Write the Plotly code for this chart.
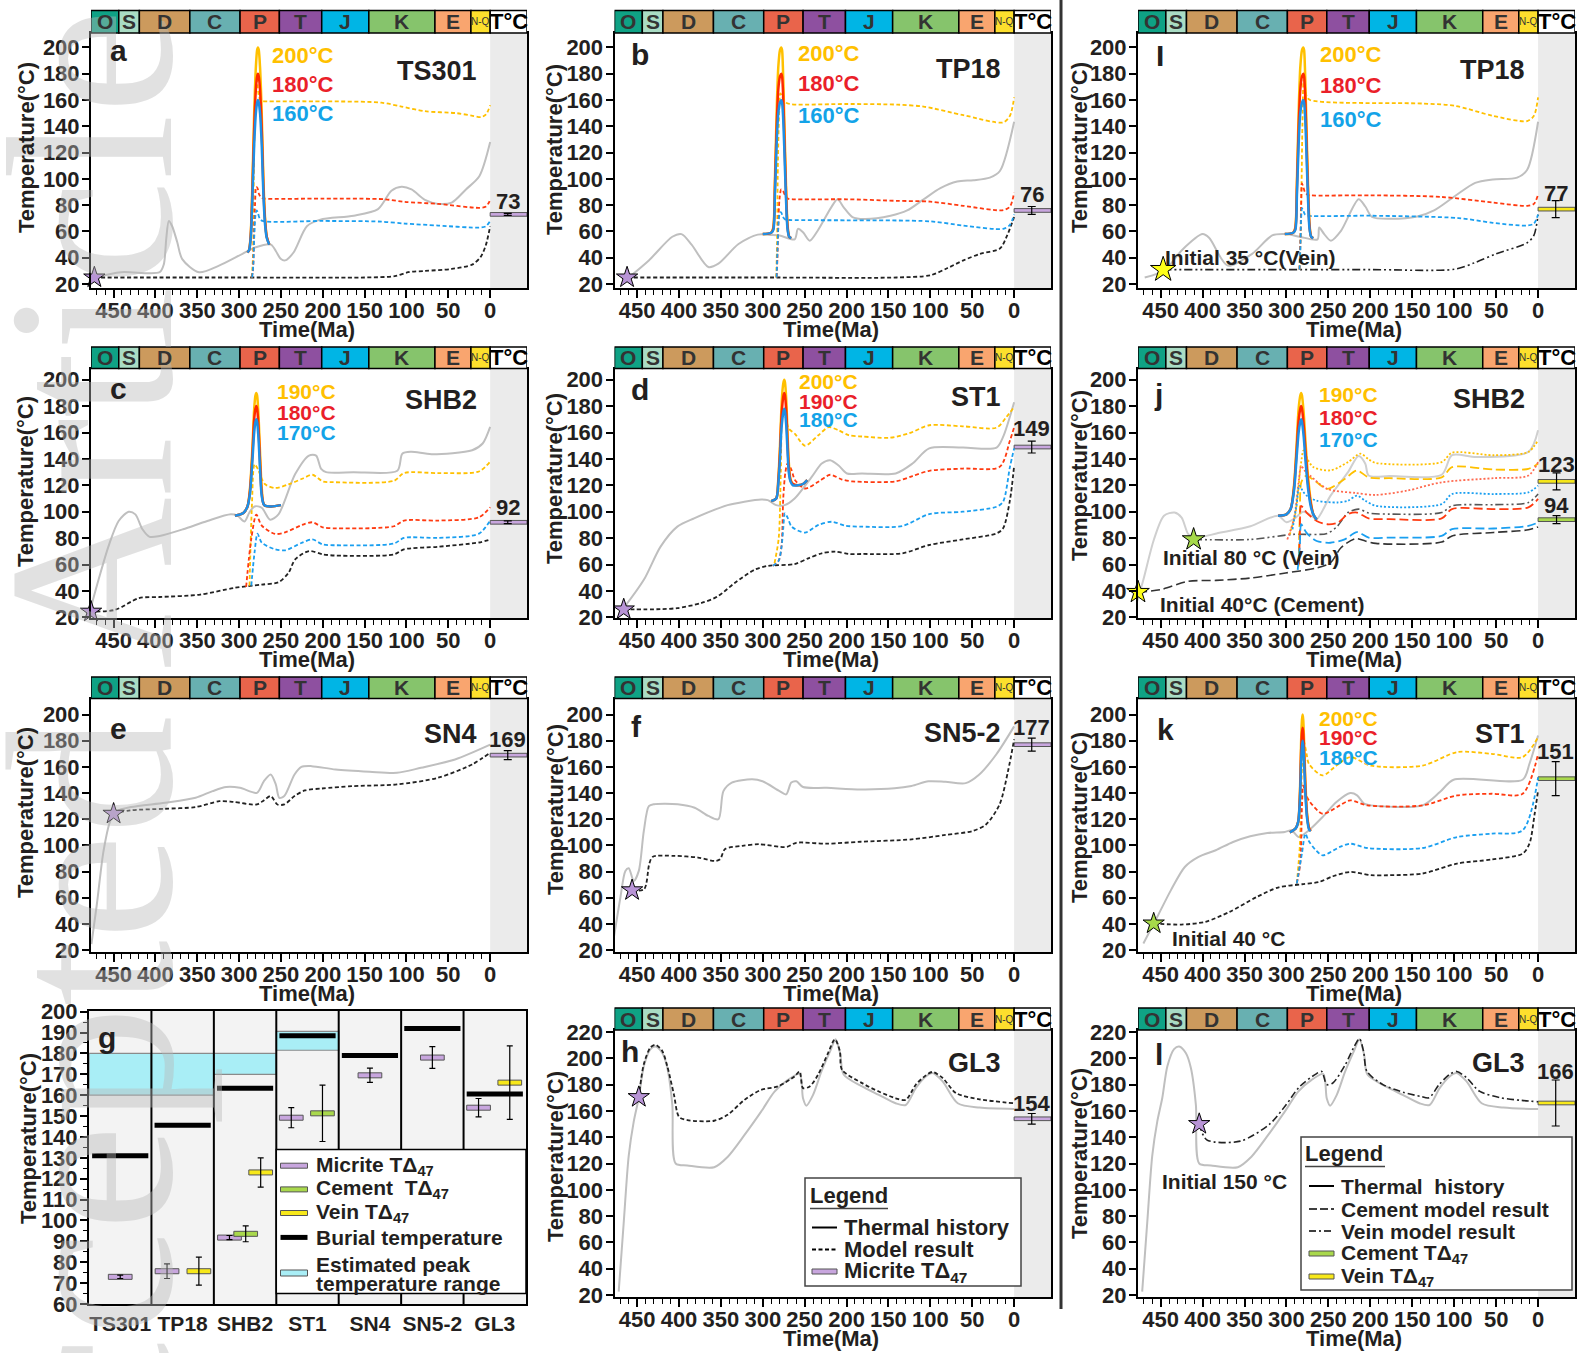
import plotly.graph_objects as go

W, H = 1585, 1353
FONT = "Liberation Sans"
TXT = "#231f20"

# ---------------- geologic time bar ----------------
period_names = ["O", "S", "D", "C", "P", "T", "J", "K", "E", "N-Q", "T°C"]
period_bounds = [485.4, 443.8, 419.2, 358.9, 298.9, 251.9, 201.3, 145.0, 66.0, 23.0, 0.0, -44.0]
period_colors = ["#0fa285", "#a9dcc4", "#cc9a5d", "#68b0b1", "#e9644b", "#8e50a0",
                 "#00b5e5", "#86c46c", "#f9a56f", "#fddf2d", "#ffffff"]
x_major = [450, 400, 350, 300, 250, 200, 150, 100, 50, 0]
x_minor = [470, 460, 440, 430, 420, 410, 390, 380, 370, 360, 340, 330, 320, 310, 290, 280,
           270, 260, 240, 230, 220, 210, 190, 180, 170, 160, 140, 130, 120, 110, 90, 80, 70,
           60, 40, 30, 20, 10]
X_RANGE = [477, -44]

# ---------------- panel a : TS301 ----------------
a_thermal_t = [473, 441, 395, 390, 387, 384, 380, 374, 368, 348, 324, 296, 280, 262, 256, 250, 245, 235, 219, 203, 163, 134, 118, 106, 94, 78, 62, 46, 29, 13, 0]
a_thermal_T = [25, 29, 29, 35, 55, 68, 64, 52, 39, 29, 34, 43, 48, 50, 45, 39, 38, 44, 64, 69, 72, 77, 91, 94, 92, 84, 81, 82, 92, 102, 128]
a_model_t = [473, 300, 150, 114, 98, 78, 46, 21, 11, 5, 0]
a_model_T = [25, 25, 25, 26, 29, 30, 31.5, 35, 41, 50, 64]
a_yel_t = [285, 283.5, 282.5, 281, 279.5, 278, 276, 273, 270, 200, 130, 106, 78, 40, 21, 11, 5, 0]
a_yel_T = [25, 40, 100, 160, 180, 172, 162, 159, 159, 159, 158, 155, 151.5, 150, 148, 147, 149, 156]
a_red_t = [285, 283.5, 282.5, 281, 279.5, 278, 276, 273, 270, 200, 126, 102, 62, 13, 5, 0]
a_red_T = [25, 30, 50, 80, 94, 93, 88, 85.5, 85, 85, 84.5, 82.5, 81, 78, 79, 84]
a_blu_t = [284.5, 283, 282, 280.5, 279, 277.5, 275.5, 272, 200, 130, 102, 62, 13, 5, 0]
a_blu_T = [25, 35, 55, 72, 76, 74, 70, 68, 68, 67.5, 66, 64.5, 63, 64, 68]
a_peak_t = [290, 288, 286, 284, 282, 280, 278.5, 277.5, 276.5, 275, 273, 271, 269, 267, 264]
a_peak_200 = [44, 46, 60, 100, 150, 185, 198, 200, 198, 185, 150, 100, 70, 56, 50]
a_peak_180 = [44, 46, 58, 94, 138, 168, 178, 180, 178, 168, 138, 94, 68, 56, 50]
a_peak_160 = [44, 46, 56, 88, 126, 150, 158, 160, 158, 150, 126, 88, 65, 55, 50]
a_micrite, a_micrite_err = 73, 0.8

# ---------------- panel b : TP18 ----------------
b_thermal_t = [462, 436, 408, 397, 385, 365, 353, 329, 306, 290, 280, 262, 258, 252, 244, 234.5, 218.7, 210.8, 203, 193, 179, 147.5, 127.7, 108, 88, 68, 48.6, 29, 17, 0]
b_thermal_T = [24, 38, 56, 58, 50, 33, 35.5, 50.5, 57.6, 57.4, 57, 54, 62, 59.4, 53, 60.6, 78, 84.5, 78, 71, 69.5, 72, 76, 84.5, 93, 98, 99, 101, 106, 143.5]
b_model_t = [462, 300, 140, 100, 80, 60.5, 40.7, 17, 9, 0]
b_model_T = [25, 25, 25, 26.7, 32, 38, 43, 47, 56, 71]
b_yel_t = [284, 283, 282, 280.5, 279, 277, 275, 272, 268, 258, 200, 139.6, 108, 60.5, 13, 5, 0]
b_yel_T = [25, 50, 110, 150, 165, 163, 160, 158, 157, 156.5, 157, 156.5, 155, 148.5, 143, 148, 162]
b_red_t = [283.5, 282.5, 281.5, 280, 278, 276, 273, 270, 264, 200, 139.6, 100, 60.5, 13, 5, 0]
b_red_T = [25, 40, 65, 85, 92, 91, 87, 85, 84.5, 84.5, 83.3, 82.7, 79.5, 76.2, 79, 89.5]
b_blu_t = [283.5, 282.5, 281, 279.5, 278, 276, 273, 266, 200, 100, 60.5, 13, 5, 0]
b_blu_T = [25, 45, 68, 74.5, 74.5, 71, 69, 68.7, 68.5, 67.7, 64.5, 62, 65, 73]
b_peak_t = [300, 290, 287.5, 285.5, 283.5, 281.5, 279.5, 278, 277, 276, 274.5, 272.5, 270.5, 268.5, 266]
b_peak_200 = [58, 59, 63, 100, 150, 185, 198, 200, 198, 185, 150, 100, 66, 56, 55]
b_peak_180 = [58, 59, 62, 94, 138, 168, 178, 180, 178, 168, 138, 94, 64, 56, 55]
b_peak_160 = [58, 59, 61, 88, 126, 150, 158, 160, 158, 150, 126, 88, 62, 56, 55]
b_micrite, b_micrite_err = 76, 3

# ---------------- panel i : TP18 (vein) ----------------
i_thermal_t = [469, 445, 425, 400, 392, 370, 341, 317, 300, 284, 263, 261, 255, 247, 235, 214, 206, 198, 177, 144, 124, 99, 75, 54, 25, 13, 0]
i_thermal_T = [25, 30.5, 45.6, 58, 55, 34, 43, 57, 58, 56, 54, 63, 58, 53, 60.5, 84.6, 79, 71, 69.6, 71.4, 76, 87, 97, 99.6, 101, 107, 143.5]
i_vein_t = [447, 300, 200, 99, 75, 50, 13, 5, 0]
i_vein_T = [31, 31, 31, 31.3, 36.4, 43, 51.4, 57, 72.8]
i_yel_t = [284.5, 283, 282, 281, 279.5, 278, 276, 272, 136, 99, 54, 13, 5, 0]
i_yel_T = [31, 60, 96, 140, 175, 170, 163, 160, 157.3, 155.6, 148, 144, 148, 162]
i_red_t = [284.5, 283.5, 282.5, 281.5, 280, 278, 275, 272, 200, 115.7, 54, 13, 5, 0]
i_red_T = [31, 50, 80, 96.6, 94, 90, 88, 87.5, 87.5, 86.3, 82, 79.5, 81, 88]
i_blu_t = [284.5, 283.5, 282.5, 281.5, 280, 278, 274, 200, 95, 54, 13, 5, 0]
i_blu_T = [31, 45, 70, 77.7, 76, 73, 72, 72, 70.2, 66.6, 64.5, 66, 72.8]
i_peak_t = [302, 292, 289.5, 287.5, 285.5, 283.5, 281.5, 280, 279, 278, 276.5, 274.5, 272.5, 270.5, 268]
i_peak_200 = [58, 59, 63, 100, 150, 185, 198, 200, 198, 185, 150, 100, 66, 56, 55]
i_peak_180 = [58, 59, 62, 94, 138, 168, 178, 180, 178, 168, 138, 94, 64, 56, 55]
i_peak_160 = [58, 59, 61, 88, 126, 150, 158, 160, 158, 150, 126, 88, 62, 56, 55]
i_vein, i_vein_err = 77, 6.5

# ---------------- panel c : SHB2 ----------------
c_thermal_t = [478.5, 468, 456, 444, 432, 424, 415.5, 407, 395, 367, 338, 310, 302, 293.6, 287.6, 281.5, 273, 263, 253, 233, 216.5, 208, 202, 196, 163.7, 111, 105, 94.6, 70, 21.5, 9, 0]
c_thermal_T = [24.3, 48.5, 74, 93, 100, 98, 86.7, 81, 81.6, 86.7, 93, 98, 97, 92.6, 99.6, 104, 103, 94, 98, 128.5, 142.5, 142.5, 132.4, 130, 130, 131, 144, 145.4, 143.6, 146.6, 151.7, 164.3]
c_model_t = [478.5, 448, 419.6, 395, 346.5, 306, 273, 253, 241, 233, 216.5, 200, 184, 115, 103, 62, 13.4, 0]
c_model_T = [24.3, 25.7, 34.6, 35.4, 37.2, 42.3, 44.8, 46.6, 53.7, 63.9, 70.2, 67.7, 66.8, 67.7, 71.5, 73.5, 76.7, 79]
c_yel_t = [287.6, 284.7, 281.5, 277.4, 269.3, 257, 241, 224.6, 212.4, 200, 188, 115, 103, 62, 13.4, 0]
c_yel_T = [44, 105, 136, 132, 121, 118, 120.7, 125, 128, 123, 122.4, 123.4, 129.3, 129.3, 130.5, 138]
c_red_t = [291.6, 285.5, 279.4, 273, 257, 245, 224.6, 212.4, 200, 184, 115, 103, 62, 13.4, 0]
c_red_T = [43, 79.4, 97.8, 89.5, 83.2, 84.4, 90, 92, 88.2, 87.4, 89, 93.3, 93.3, 95.8, 103.4]
c_blu_t = [285.5, 281.5, 278, 273, 257, 245, 224.6, 212.4, 200, 184, 115, 103, 62, 13.4, 0]
c_blu_T = [44, 69.5, 83.4, 76.6, 71.5, 70.8, 76.6, 79, 75.2, 74.6, 75.9, 80.2, 80.2, 83.4, 93.5]
c_peak_t = [305, 295, 290, 287, 284, 282, 280.5, 279.5, 278.5, 277, 275, 273, 270, 262, 250]
c_peak_190 = [97, 99, 104, 118, 150, 178, 188, 190, 188, 175, 145, 118, 105, 104, 105]
c_peak_180 = [97, 99, 104, 116, 145, 170, 178, 180, 178, 166, 138, 114, 105, 104, 105]
c_peak_170 = [97, 99, 104, 114, 140, 160, 168, 170, 168, 157, 132, 112, 105, 104, 105]
c_micrite, c_micrite_err = 92, 1

# ---------------- panel d : ST1 ----------------
d_thermal_t = [466, 442, 422, 402, 382, 342, 322, 302, 294, 284, 274, 262, 241.6, 229.6, 219.6, 209.5, 199.5, 181.5, 141.4, 121.4, 101.4, 61.3, 21, 13.2, 0]
d_thermal_T = [27, 48.4, 73.6, 88.7, 95, 105, 107.6, 109.3, 108.8, 105, 105, 110, 126.4, 136.5, 139, 135, 129, 129, 129, 136.5, 148, 148.6, 148.6, 156.7, 183]
d_model_t = [466, 422, 402, 374, 354, 334, 310, 294, 262, 245.6, 229.6, 213.5, 197.5, 181.5, 133.4, 101.4, 61.3, 21, 13.2, 5, 0]
d_model_T = [26, 26.2, 27, 30.7, 35.8, 45.8, 56, 59, 60.4, 64.7, 68.5, 69.8, 68, 68, 68.5, 74.8, 79, 83.6, 87.4, 108.8, 135]
d_yel_t = [286, 281, 278.5, 276, 273, 269, 261.6, 249.6, 233.6, 221.6, 209.5, 197.5, 181.5, 149.4, 125.4, 101.4, 61.3, 21, 9.2, 0]
d_yel_T = [61, 80, 130, 175, 172, 163, 159, 150, 158, 164, 161.7, 158, 157, 156, 159.4, 165.5, 164.7, 163.7, 171.8, 179.3]
d_red_t = [288, 281, 277.5, 275.6, 273, 270.4, 266, 261.6, 249.6, 233.6, 219.6, 205.5, 193.5, 141.4, 121.4, 101.4, 61.3, 17.2, 5, 0]
d_red_T = [59, 63, 75, 110, 130, 136.5, 132, 124, 117.6, 122.7, 128, 124.4, 123, 123, 127, 131, 132.7, 134, 154, 164]
d_blu_t = [288, 281, 277.6, 275.5, 273.6, 270, 265.6, 249.6, 233.6, 217.6, 201.5, 181.5, 133.4, 101.4, 61.3, 21, 13.2, 5, 0]
d_blu_T = [59, 63, 73.6, 88, 98.8, 95, 88.7, 84.2, 90, 92.4, 89.4, 88.7, 89.2, 98.2, 100, 103.8, 107.6, 134, 148]
d_peak_t = [290, 284, 281.5, 279.5, 278, 276.5, 275.3, 274.4, 273.5, 272, 270.5, 269, 267, 264, 258, 252, 247]
d_peak_200 = [108, 110, 125, 150, 175, 192, 198, 200, 198, 185, 160, 138, 125, 121, 120, 121, 124]
d_peak_190 = [108, 110, 123, 145, 168, 182, 188, 190, 188, 176, 153, 134, 124, 121, 120, 121, 124]
d_peak_178 = [108, 110, 121, 140, 160, 171, 176, 178, 176, 165, 146, 130, 123, 120, 120, 121, 124]
d_micrite, d_micrite_err = 149, 4.5

# ---------------- panel j : SHB2 (cement + vein) ----------------
j_thermal_t = [481, 470.6, 458, 446, 433.4, 425, 417, 409, 380, 343, 310, 300, 290, 280, 270, 264, 247.6, 226.6, 214, 206, 202, 177, 115, 102.6, 73.6, 11.6, 0]
j_thermal_T = [25.6, 48.5, 79, 97, 99.4, 95.6, 83, 80.4, 84, 89, 97, 92, 95, 100, 97, 94.4, 112, 130, 142.2, 136.4, 127.4, 127, 128, 142.8, 141.5, 145.3, 161.8]
j_cem_t = [477, 450, 417, 384, 343, 301, 264, 247.6, 235, 218, 206, 193.5, 115, 102.6, 53, 11.6, 0]
j_cem_T = [39.1, 41, 47.3, 48, 49.8, 53.6, 57.4, 61.3, 72.7, 79.6, 77.8, 76, 77, 81.7, 84.3, 86.3, 88.5]
j_vein_t = [410.7, 343, 293, 251.4, 239, 226.6, 214, 202, 177, 115, 102.6, 53, 11.6, 0]
j_vein_T = [79, 79, 82.8, 83.6, 89.3, 99.4, 102, 99, 98.2, 99.4, 104.5, 105.3, 107, 113.4]
j_yel_vein_t = [296, 289, 283, 279.6, 275, 268, 247.6, 226.6, 212, 202, 193.5, 115, 102.6, 53, 11.6, 0]
j_yel_vein_T = [83, 100, 135, 146.5, 140, 133.8, 131.3, 137.6, 144, 139.7, 137, 137.6, 144.7, 142.8, 145.3, 154.2]
j_yel_cem_t = [285.5, 284, 282.5, 279, 276, 264, 251.4, 230.6, 216, 202, 177, 115, 102.6, 53, 11.6, 0]
j_yel_cem_T = [58.6, 100, 122, 126, 127.4, 122.3, 117.3, 124.8, 131.3, 126, 125.4, 126, 133.8, 132, 132.5, 136.4]
j_red_vein_t = [299, 291, 285, 282.5, 278, 272, 251.4, 218, 193.5, 156, 115, 53, 11.6, 0]
j_red_vein_T = [79, 95, 125, 134.6, 131, 127.5, 117.3, 114.2, 112.7, 116, 122.3, 125.4, 127.4, 137.6]
j_red_cem_t = [285, 284, 282.5, 279, 276, 264, 251.4, 239, 226.6, 216, 202, 177, 115, 102.6, 53, 11.6, 0]
j_red_cem_T = [60, 84, 104.4, 102, 99.4, 93, 90.5, 91.7, 98.2, 99.4, 94.9, 94.4, 94.9, 102, 102, 103.3, 109.7]
j_blu_vein_t = [292.8, 288, 284.5, 280, 276, 264, 239, 226.6, 216, 206, 193.5, 115, 102.6, 53, 11.6, 0]
j_blu_vein_T = [86.7, 105, 119.8, 115, 112.2, 108.4, 107, 108.4, 112.2, 108.4, 104.5, 105.8, 113.4, 113.4, 114.7, 119.8]
j_blu_cem_t = [286.6, 284, 282.5, 279, 276, 264, 247.6, 230.6, 216, 202, 177, 115, 102.6, 53, 11.6, 0]
j_blu_cem_T = [56, 75, 90.5, 87, 84, 77.8, 76.5, 79, 84.6, 80.4, 80.4, 81.7, 86.8, 87.3, 89.3, 91.8]
j_peak_t = [310, 300, 295, 291, 288, 285.5, 283.5, 282.5, 281.5, 279.5, 277, 274, 271, 268, 264]
j_peak_190 = [97, 98, 102, 120, 150, 178, 188, 190, 188, 175, 150, 125, 108, 98, 94]
j_peak_180 = [97, 98, 102, 118, 145, 169, 178, 180, 178, 166, 143, 120, 106, 98, 94]
j_peak_170 = [97, 98, 102, 116, 140, 160, 168, 170, 168, 157, 136, 116, 104, 98, 94]
j_vein, j_vein_err = 123, 6.5
j_cement, j_cement_err = 94, 3

# ---------------- panel e : SN4 ----------------
e_thermal_t = [476.5, 470, 462, 454, 445.6, 429.3, 388.5, 352, 331.7, 315.4, 299, 278.7, 270.5, 262.3, 256.2, 252, 246, 233.8, 225.6, 213.4, 184.8, 144, 111.4, 82.8, 42, 0]
e_thermal_T = [24.5, 55, 95.8, 118.6, 126.3, 129.3, 132.6, 136.4, 141.5, 144.6, 144, 140.2, 149, 154.2, 146.6, 136.4, 137.7, 154.2, 160, 160.6, 158, 156.3, 155.5, 159.3, 165.7, 177]
e_model_t = [450, 429.6, 388.8, 352, 323.5, 307, 278.7, 270.5, 262.3, 254.2, 246, 233.8, 221.5, 201, 164.4, 111.4, 62.4, 21.6, 0]
e_model_T = [124.2, 126.8, 128, 129.3, 133.8, 133.3, 131.3, 134.4, 137.7, 131.3, 131.3, 137.7, 142, 143.5, 145.3, 146.6, 151.7, 161.9, 170.8]
e_micrite, e_micrite_err = 169, 3.5

# ---------------- panel f : SN5-2 ----------------
f_thermal_t = [478.4, 470, 464, 460, 454, 448, 442, 436, 429.8, 401.5, 381.3, 365, 353, 347, 337, 312.6, 300.4, 280, 272.1, 266, 260, 252, 223.6, 183, 142.7, 122.5, 102.3, 82, 57.8, 41.6, 21.4, 0]
f_thermal_T = [27, 60, 80.5, 82.5, 72.7, 80.5, 111, 130, 131.5, 131.5, 128.8, 122.5, 120, 141.5, 148, 150.5, 149, 141.5, 139, 148, 149, 144.6, 144, 142.8, 143.6, 145.4, 149, 148.6, 147.6, 154.2, 169.5, 191]
f_model_t = [456, 441.7, 435.6, 431.6, 405.6, 377.3, 357, 351, 345, 324.5, 304.5, 272, 260, 223.6, 183, 122.5, 82, 49.7, 33.6, 17.4, 7.3, 0]
f_model_T = [65.7, 66.5, 85.6, 91.2, 92, 90.7, 88.1, 89.4, 97.2, 99.7, 100.9, 98.8, 102, 101.3, 102.8, 104.6, 108, 111, 116, 131.3, 156.8, 181]
f_micrite, f_micrite_err = 177, 5

# ---------------- panel k : ST1 (cement) ----------------
k_thermal_t = [470.6, 454, 437.7, 421.2, 404.8, 384.3, 363.7, 343.2, 322.7, 302, 293.9, 285.7, 273.3, 256.9, 240.4, 224, 215.8, 207.6, 199.3, 137.7, 117.1, 100.7, 18.5, 10.3, 0]
k_thermal_T = [25, 45.4, 65.8, 83.5, 91.2, 96.3, 102.6, 107, 109.5, 110.3, 111.5, 106.5, 111.5, 121.7, 133.1, 140, 138.3, 131.9, 130.6, 130.6, 140.8, 150.2, 150.2, 162.4, 184]
k_model_t = [458.3, 425.4, 396.6, 367.8, 335, 310, 281.5, 261, 244.6, 224, 199.3, 178.8, 137.7, 96.6, 55.5, 18.5, 10.3, 4.1, 0]
k_model_T = [40.3, 39.5, 41.6, 49.2, 60.7, 67.8, 70.3, 72.1, 76.4, 79.7, 77.2, 77.2, 78.5, 86.1, 89.2, 93.7, 101.3, 124.2, 142]
k_yel_t = [287.7, 284, 281.5, 279.5, 276, 273.3, 257, 240.4, 224, 199.3, 137.7, 96.6, 55.5, 18.5, 0]
k_yel_T = [70.8, 100, 160, 180, 170, 162.4, 153.5, 161, 167.5, 161, 161, 171.3, 170, 167.5, 182.7]
k_red_t = [287.7, 283.6, 281.5, 280, 277.5, 273.3, 256.9, 236.4, 224, 203.5, 137.7, 96.6, 55.5, 18.5, 0]
k_red_T = [70.8, 86, 130, 145.8, 140, 134.4, 124.2, 130.6, 134.4, 130.6, 130.6, 138.2, 139.5, 139.5, 170]
k_blu_t = [287.7, 281.6, 277.4, 274, 265, 256.9, 236.4, 224, 203.5, 137.7, 96.6, 55.5, 18.5, 0]
k_blu_T = [70.8, 93.7, 109, 104, 96.3, 92.4, 98.8, 101.3, 98, 98, 106.4, 109, 111.5, 152]
k_peak_t = [296, 289, 286, 284, 282.5, 281.5, 280.7, 280, 279, 277.5, 275.5, 273, 271]
k_peak_200 = [110, 113, 118, 140, 180, 196, 200, 196, 180, 150, 125, 113, 111]
k_peak_190 = [110, 113, 118, 137, 172, 186, 190, 186, 172, 145, 123, 113, 111]
k_peak_180 = [110, 113, 118, 134, 164, 176, 180, 176, 164, 140, 121, 112, 111]
k_cement, k_cement_err = 151, 13

# ---------------- panels h / l : GL3 ----------------
gl3_thermal_t = [472, 466, 460, 454, 448, 442, 434, 428, 420, 414, 408, 404, 390, 358, 342, 322, 302, 286, 270, 256, 252, 248, 240, 230, 219.6, 213, 207.5, 203.5, 181.5, 161.5, 141.4, 129.4, 117.4, 105.4, 97.4, 85.3, 67.3, 41.3, 0]
gl3_thermal_T = [22.6, 75, 126, 152, 170, 194, 207, 209, 204, 192.8, 164.6, 120, 118.5, 117.2, 125, 141.5, 159.4, 174.7, 183.6, 188, 169.6, 164, 172.2, 190, 205.4, 214.4, 203, 187.7, 178.6, 172.2, 165.8, 164.5, 177.3, 186.2, 188.8, 182.4, 165.8, 162.5, 161.5]
h_model_t = [448, 442, 434, 428, 420, 414, 406, 400, 390, 358, 342, 322, 302, 282, 262, 256, 252, 244, 234, 222, 214, 208, 205.5, 181.5, 161.5, 141.4, 129.4, 117.4, 105.4, 97.4, 85.3, 69.3, 41.3, 0]
h_model_T = [170.5, 195.5, 208.3, 210.3, 205.6, 194, 172.2, 155.5, 153, 152.5, 157, 168.3, 176, 178.6, 186.2, 190, 177.3, 178.6, 187.5, 204.1, 214.4, 205.4, 191.3, 181.1, 174.7, 169.6, 168.4, 179.9, 187, 189.6, 185, 173.5, 168.8, 165.8]
h_micrite, h_micrite_err = 154, 4
l_vein_t = [404, 395, 355, 320, 300, 285, 265, 258, 252, 245, 230, 220, 213, 208, 204, 185, 160, 140, 130, 118, 105, 97, 85, 70, 45, 20, 0]
l_vein_T = [150, 138, 137, 150, 165, 178, 188, 190, 180, 181, 195, 208, 215, 205, 190, 180, 174, 171, 170, 180, 188, 190, 185, 175, 170, 168, 167]
l_vein, l_vein_err = 166, 17.5

# ---------------- panel g : summary ----------------
g_samples = ["TS301", "TP18", "SHB2", "ST1", "SN4", "SN5-2", "GL3"]
g_burial = [131, 145.6, 163.3, 188.4, 179, 191.9, 160.6]
g_peak_lo = [160, 160, 170, 181.5, None, None, None]
g_peak_hi = [180, 180, 180, 190.5, None, None, None]
g_micrite = [73, 75.7, 91.8, 149.2, 169.5, 178, 154]
g_micrite_err = [0.8, 3.5, 1, 4.8, 3.4, 5.2, 4.4]
g_cement = [None, None, 93.6, 151.3, None, None, None]
g_cement_err = [None, None, 3.8, 13.5, None, None, None]
g_vein = [None, 75.7, 123, None, None, None, 166]
g_vein_err = [None, 6.7, 7, None, None, None, 17.6]
# horizontal slot of each symbol inside its column (styling)
g_micrite_slot = [0.5, 0.25, 0.25, 0.24, 0.5, 0.5, 0.24]
g_cement_slot = [0, 0, 0.51, 0.74, 0, 0, 0]
g_vein_slot = [0, 0.76, 0.75, 0, 0, 0, 0.74]

# ---------------- colours ----------------
YEL, RED, BLU = "#ffc000", "#ff3a10", "#1a9ff0"
YEL_T, RED_T, BLU_T = "#ffc000", "#ea1f2a", "#13a3e8"
GREY = "#bfbfbf"
BLK = "#222222"
MICRITE_C, CEMENT_C, VEIN_C = "#c8a6de", "#a9d84c", "#f7e81a"
STAR_PURPLE, STAR_YEL, STAR_GREEN = "#b894d6", "#ffff1a", "#a6d94a"

fig = go.Figure()
shapes, annos = [], []

# page watermark (light grey, rotated, partly off page)
annos.append(dict(x=90 / W, y=1 - 6 / H, xref="paper", yref="paper", text="Accepted Article",
                  textangle=-90, showarrow=False, opacity=0.42,
                  font=dict(family="Liberation Serif", size=238, color="#b9b9b9"),
                  xanchor="center", yanchor="top"))


def fx(px):
    return px / W


def fy(py):
    return 1 - py / H


def ids(n):
    s = "" if n == 1 else str(n)
    return "x" + s, "y" + s, "xaxis" + s, "yaxis" + s


axis_font = dict(family=FONT, size=22, color=TXT, weight="bold")


def make_panel(n, xpx, row, yrange, yticks, letter, sample, temps=None):
    x0, x1 = xpx
    bar_top, top, bot = row
    xr, yr, xs, ys = ids(n)
    fig.layout[xs] = dict(domain=[fx(x0), fx(x1)], range=X_RANGE, anchor=yr, tickvals=x_major,
                          ticks="outside", ticklen=8, tickwidth=1.5, tickcolor="black", ticklabelstandoff=-6,
                          showline=True, linewidth=2, linecolor="black", mirror=True, automargin=False,
                          showgrid=False, zeroline=False, tickfont=axis_font,
                          minor=dict(tickvals=x_minor, ticks="outside", ticklen=5, tickwidth=1, tickcolor="black"))
    fig.layout[ys] = dict(domain=[fy(bot), fy(top)], range=yrange, anchor=xr, tickvals=yticks,
                          ticks="outside", ticklen=7, tickwidth=1.5, tickcolor="black", ticklabelstandoff=-2,
                          showline=True, linewidth=2, linecolor="black", mirror=True, automargin=False,
                          showgrid=False, zeroline=False, tickfont=axis_font)
    shapes.append(dict(type="rect", xref=xr, yref=yr + " domain", x0=0, x1=X_RANGE[1], y0=0, y1=1,
                       fillcolor="#ebebeb", line=dict(width=0), layer="below"))
    for k, name in enumerate(period_names):
        a0 = min(period_bounds[k], X_RANGE[0])
        a1 = period_bounds[k + 1]
        shapes.append(dict(type="rect", xref=xr, yref="paper", x0=a0, x1=a1, y0=fy(top), y1=fy(bar_top),
                           fillcolor=period_colors[k], line=dict(color="black", width=1.5)))
        if name == "N-Q":
            txt, size, col = "N-Q", 10, "#333333"
        elif name == "T°C":
            txt, size, col = "<b>T°C</b>", 22, "black"
        else:
            txt, size, col = "<b>%s</b>" % name, 21, "#333333"
        annos.append(dict(x=(a0 + a1) / 2, y=fy((top + bar_top) / 2), xref=xr, yref="paper",
                          text=txt, showarrow=False, font=dict(family=FONT, size=size, color=col),
                          xanchor="center", yanchor="middle"))
    annos.append(dict(x=letter[1], y=letter[2], xref=xr + " domain", yref=yr + " domain",
                      text="<b>%s</b>" % letter[0], showarrow=False,
                      font=dict(family=FONT, size=30, color=TXT), xanchor="center", yanchor="middle"))
    if sample:
        annos.append(dict(x=0.89, y=sample[1], xref=xr + " domain", yref=yr + " domain",
                          text="<b>%s</b>" % sample[0], showarrow=False,
                          font=dict(family=FONT, size=27, color=TXT), xanchor="right", yanchor="middle"))
    if temps:
        for (txt, yy, col) in temps[1]:
            annos.append(dict(x=temps[0], y=yy, xref=xr + " domain", yref=yr + " domain",
                              text="<b>%s</b>" % txt, showarrow=False,
                              font=dict(family=FONT, size=temps[2], color=col), xanchor="left", yanchor="middle"))
    annos.append(dict(x=0.495, y=fy(bot + 41), xref=xr + " domain", yref="paper", text="<b>Time(Ma)</b>",
                      showarrow=False, font=dict(family=FONT, size=22, color=TXT), xanchor="center", yanchor="middle"))
    return xr, yr


def ytitle(xpx, ypx):
    annos.append(dict(x=fx(xpx), y=fy(ypx), xref="paper", yref="paper", text="<b>Temperature(°C)</b>",
                      textangle=-90, showarrow=False, font=dict(family=FONT, size=22, color=TXT),
                      xanchor="center", yanchor="middle"))


def line(xr, yr, t, T, color, width=2.0, dash="solid", smooth=0.8):
    fig.add_trace(go.Scatter(x=t, y=T, mode="lines", xaxis=xr, yaxis=yr, showlegend=False, hoverinfo="skip",
                             line=dict(color=color, width=width, dash=dash, shape="spline", smoothing=smooth)))


def star(xr, yr, t, T, color, size=16):
    fig.add_trace(go.Scatter(x=[t], y=[T], mode="markers", xaxis=xr, yaxis=yr, showlegend=False,
                             hoverinfo="skip", cliponaxis=False,
                             marker=dict(symbol="star", size=size, color=color, line=dict(color="black", width=1))))


def td47(xr, yr, val, err, color, label, label_dy, xe=-21):
    fig.add_trace(go.Bar(x=[X_RANGE[1]], y=[val], base=[0], orientation="h", width=2.8, xaxis=xr, yaxis=yr,
                         showlegend=False, hoverinfo="skip",
                         marker=dict(color=color, line=dict(color="#555555", width=1))))
    fig.add_trace(go.Scatter(x=[xe], y=[val], mode="markers", xaxis=xr, yaxis=yr, showlegend=False,
                             hoverinfo="skip", marker=dict(size=1, color="rgba(0,0,0,0)"),
                             error_y=dict(type="data", array=[err], color="black", thickness=1.2, width=4)))
    if label:
        annos.append(dict(x=xe, y=val + label_dy, xref=xr, yref=yr, text="<b>%d</b>" % val, showarrow=False,
                          font=dict(family=FONT, size=22, color=TXT), xanchor="center", yanchor="middle"))


def peaks(xr, yr, t, hi, mid, lo):
    line(xr, yr, t, hi, YEL, 2.5)
    line(xr, yr, t, mid, "#ff2a00", 2.5)
    line(xr, yr, t, lo, "#1e8fe6", 2.5)


DASH = "4px,2.5px"
C1, C2, C3 = (91, 527), (614.5, 1051), (1138, 1575)
R1, R2, R3, R4 = (10.5, 33, 288), (347, 368.5, 618), (677, 698.5, 952), (1008, 1030, 1297)
Y1, Y2, Y3, Y4 = [17, 211], [19.5, 208.5], [18.5, 212.3], [18.5, 221.5]
YT = [20, 40, 60, 80, 100, 120, 140, 160, 180, 200]
YT4 = [20, 40, 60, 80, 100, 120, 140, 160, 180, 200, 220]

# ---- a ----
xr, yr = make_panel(1, C1, R1, Y1, YT, ("a", 0.063, 0.93), ("TS301", 0.85),
                    (0.41, [("200°C", 0.91, YEL_T), ("180°C", 0.798, RED_T), ("160°C", 0.685, BLU_T)], 22))
line(xr, yr, a_thermal_t, a_thermal_T, GREY)
line(xr, yr, a_model_t, a_model_T, BLK, 1.8, DASH)
line(xr, yr, a_yel_t, a_yel_T, YEL, 1.8, DASH)
line(xr, yr, a_red_t, a_red_T, RED, 1.8, DASH)
line(xr, yr, a_blu_t, a_blu_T, BLU, 1.8, DASH)
peaks(xr, yr, a_peak_t, a_peak_200, a_peak_180, a_peak_160)
star(xr, yr, a_model_t[0], a_model_T[0], STAR_PURPLE)
td47(xr, yr, a_micrite, a_micrite_err, MICRITE_C, True, 10)

# ---- b ----
xr, yr = make_panel(2, C2, R1, Y1, YT, ("b", 0.059, 0.914), ("TP18", 0.86),
                    (0.415, [("200°C", 0.92, YEL_T), ("180°C", 0.803, RED_T), ("160°C", 0.678, BLU_T)], 22))
line(xr, yr, b_thermal_t, b_thermal_T, GREY)
line(xr, yr, b_model_t, b_model_T, BLK, 1.8, DASH)
line(xr, yr, b_yel_t, b_yel_T, YEL, 1.8, DASH)
line(xr, yr, b_red_t, b_red_T, RED, 1.8, DASH)
line(xr, yr, b_blu_t, b_blu_T, BLU, 1.8, DASH)
peaks(xr, yr, b_peak_t, b_peak_200, b_peak_180, b_peak_160)
star(xr, yr, b_model_t[0], b_model_T[0], STAR_PURPLE)
td47(xr, yr, b_micrite, b_micrite_err, MICRITE_C, True, 12)

# ---- i ----
xr, yr = make_panel(3, C3, R1, Y1, YT, ("I", 0.05, 0.91), ("TP18", 0.855),
                    (0.413, [("200°C", 0.915, YEL_T), ("180°C", 0.795, RED_T), ("160°C", 0.661, BLU_T)], 22))
line(xr, yr, i_thermal_t, i_thermal_T, GREY)
line(xr, yr, i_vein_t, i_vein_T, BLK, 1.6, "8px,3px,2px,3px,2px,3px")
line(xr, yr, i_yel_t, i_yel_T, YEL, 1.8, DASH)
line(xr, yr, i_red_t, i_red_T, RED, 1.8, DASH)
line(xr, yr, i_blu_t, i_blu_T, BLU, 1.8, DASH)
peaks(xr, yr, i_peak_t, i_peak_200, i_peak_180, i_peak_160)
star(xr, yr, i_vein_t[0], i_vein_T[0], STAR_YEL, 19)
td47(xr, yr, i_vein, i_vein_err, VEIN_C, True, 12)
annos.append(dict(x=447, y=40, xref=xr, yref=yr, text="<b>Initial 35 °C(Vein)</b>", showarrow=False,
                  font=dict(family=FONT, size=21, color=TXT), xanchor="left", yanchor="middle"))

# ---- c ----
xr, yr = make_panel(4, C1, R2, Y2, YT, ("c", 0.063, 0.92), ("SHB2", 0.872),
                    (0.421, [("190°C", 0.906, YEL_T), ("180°C", 0.824, RED_T), ("170°C", 0.743, BLU_T)], 21))
line(xr, yr, c_thermal_t, c_thermal_T, GREY)
line(xr, yr, c_model_t, c_model_T, BLK, 1.8, DASH)
line(xr, yr, c_yel_t, c_yel_T, YEL, 1.8, DASH)
line(xr, yr, c_red_t, c_red_T, RED, 1.8, DASH)
line(xr, yr, c_blu_t, c_blu_T, BLU, 1.8, DASH)
peaks(xr, yr, c_peak_t, c_peak_190, c_peak_180, c_peak_170)
star(xr, yr, 477, c_model_T[0], STAR_PURPLE)
td47(xr, yr, c_micrite, c_micrite_err, MICRITE_C, True, 11)

# ---- d ----
xr, yr = make_panel(5, C2, R2, Y2, YT, ("d", 0.059, 0.916), ("ST1", 0.884),
                    (0.418, [("200°C", 0.949, YEL_T), ("190°C", 0.869, RED_T), ("180°C", 0.795, BLU_T)], 21))
line(xr, yr, d_thermal_t, d_thermal_T, GREY)
line(xr, yr, d_model_t, d_model_T, BLK, 1.8, DASH)
line(xr, yr, d_yel_t, d_yel_T, YEL, 1.8, DASH)
line(xr, yr, d_red_t, d_red_T, RED, 1.8, DASH)
line(xr, yr, d_blu_t, d_blu_T, BLU, 1.8, DASH)
peaks(xr, yr, d_peak_t, d_peak_200, d_peak_190, d_peak_178)
star(xr, yr, d_model_t[0], d_model_T[0], STAR_PURPLE)
td47(xr, yr, d_micrite, d_micrite_err, MICRITE_C, True, 14)

# ---- j ----
xr, yr = make_panel(6, C3, R2, Y2, YT, ("j", 0.047, 0.897), ("SHB2", 0.877),
                    (0.41, [("190°C", 0.897, YEL_T), ("180°C", 0.804, RED_T), ("170°C", 0.716, BLU_T)], 21))
line(xr, yr, j_thermal_t, j_thermal_T, "#cfcfcf")
LONG, DOT, DDOT = "9px,4px", "2px,2px", "8px,3px,2px,3px,2px,3px"
line(xr, yr, j_cem_t, j_cem_T, "#333333", 1.6, LONG)
line(xr, yr, j_vein_t, j_vein_T, "#555555", 1.6, DDOT)
line(xr, yr, j_yel_vein_t, j_yel_vein_T, YEL, 1.8, DOT)
line(xr, yr, j_yel_cem_t, j_yel_cem_T, YEL, 1.8, LONG)
line(xr, yr, j_red_vein_t, j_red_vein_T, "#ff6a50", 1.8, DOT)
line(xr, yr, j_red_cem_t, j_red_cem_T, RED, 1.8, LONG)
line(xr, yr, j_blu_vein_t, j_blu_vein_T, BLU, 1.8, DOT)
line(xr, yr, j_blu_cem_t, j_blu_cem_T, BLU, 1.8, LONG)
peaks(xr, yr, j_peak_t, j_peak_190, j_peak_180, j_peak_170)
star(xr, yr, j_cem_t[0], j_cem_T[0], STAR_YEL, 17)
star(xr, yr, j_vein_t[0], j_vein_T[0], STAR_GREEN, 17)
td47(xr, yr, j_vein, j_vein_err, VEIN_C, True, 13, -22)
td47(xr, yr, j_cement, j_cement_err, CEMENT_C, True, 10.5, -22)
annos.append(dict(x=449, y=65, xref=xr, yref=yr, text="<b>Initial 80 °C (Vein)</b>", showarrow=False,
                  font=dict(family=FONT, size=21, color=TXT), xanchor="left", yanchor="middle"))
annos.append(dict(x=453, y=30, xref=xr, yref=yr, text="<b>Initial 40°C (Cement)</b>", showarrow=False,
                  font=dict(family=FONT, size=21, color=TXT), xanchor="left", yanchor="middle"))

# ---- e ----
xr, yr = make_panel(7, C1, R3, Y3, YT, ("e", 0.063, 0.88), ("SN4", 0.86))
line(xr, yr, e_thermal_t, e_thermal_T, GREY)
line(xr, yr, e_model_t, e_model_T, BLK, 1.8, DASH)
star(xr, yr, e_model_t[0], e_model_T[0], STAR_PURPLE)
td47(xr, yr, e_micrite, e_micrite_err, MICRITE_C, True, 12)

# ---- f ----
xr, yr = make_panel(8, C2, R3, Y3, YT, ("f", 0.05, 0.89), ("SN5-2", 0.864))
line(xr, yr, f_thermal_t, f_thermal_T, GREY)
line(xr, yr, f_model_t, f_model_T, BLK, 1.8, DASH)
star(xr, yr, f_model_t[0], f_model_T[0], STAR_PURPLE)
td47(xr, yr, f_micrite, f_micrite_err, MICRITE_C, True, 13)

# ---- k ----
xr, yr = make_panel(9, C3, R3, Y3, YT, ("k", 0.064, 0.876), ("ST1", 0.858),
                    (0.41, [("200°C", 0.923, YEL_T), ("190°C", 0.847, RED_T), ("180°C", 0.769, BLU_T)], 21))
line(xr, yr, k_thermal_t, k_thermal_T, GREY)
line(xr, yr, k_model_t, k_model_T, BLK, 1.8, DASH)
line(xr, yr, k_yel_t, k_yel_T, YEL, 1.8, DASH)
line(xr, yr, k_red_t, k_red_T, RED, 1.8, DASH)
line(xr, yr, k_blu_t, k_blu_T, BLU, 1.8, DASH)
peaks(xr, yr, k_peak_t, k_peak_200, k_peak_190, k_peak_180)
star(xr, yr, k_model_t[0], k_model_T[0], STAR_GREEN)
td47(xr, yr, k_cement, k_cement_err, CEMENT_C, True, 21)
annos.append(dict(x=439, y=28.5, xref=xr, yref=yr, text="<b>Initial 40 °C</b>", showarrow=False,
                  font=dict(family=FONT, size=21, color=TXT), xanchor="left", yanchor="middle"))

# ---- h ----
xr, yr = make_panel(11, C2, R4, Y4, YT4, ("h", 0.036, 0.92), ("GL3", 0.875))
line(xr, yr, gl3_thermal_t, gl3_thermal_T, GREY)
line(xr, yr, h_model_t, h_model_T, BLK, 1.8, DASH)
star(xr, yr, h_model_t[0], h_model_T[0], STAR_PURPLE)
td47(xr, yr, h_micrite, h_micrite_err, MICRITE_C, True, 12)

# ---- l ----
xr, yr = make_panel(12, C3, R4, Y4, YT4, ("l", 0.049, 0.91), ("GL3", 0.875))
line(xr, yr, gl3_thermal_t, gl3_thermal_T, GREY)
line(xr, yr, l_vein_t, l_vein_T, BLK, 1.6, "7px,3px,2px,3px")
star(xr, yr, l_vein_t[0], l_vein_T[0], STAR_PURPLE)
td47(xr, yr, l_vein, l_vein_err, VEIN_C, True, 24)
annos.append(dict(x=451, y=106, xref=xr, yref=yr, text="<b>Initial 150 °C</b>", showarrow=False,
                  font=dict(family=FONT, size=21, color=TXT), xanchor="left", yanchor="middle"))

# ---- g ----
gx0, gx1, gy0, gy1 = 89, 526, 1011, 1304
fig.layout["xaxis10"] = dict(domain=[fx(gx0), fx(gx1)], range=[0, 7], anchor="y10",
                             tickvals=[k + 0.5 for k in range(7)], ticktext=["<b>%s</b>" % s for s in g_samples],
                             ticks="", showline=True, linewidth=2, linecolor="black", mirror=True, automargin=False,
                             showgrid=False, zeroline=False, tickfont=dict(family=FONT, size=21, color=TXT))
fig.layout["yaxis10"] = dict(domain=[fy(gy1), fy(gy0)], range=[60, 200.3], anchor="x10",
                             tickvals=list(range(60, 201, 10)), ticks="outside", ticklen=7, tickwidth=1.5,
                             tickcolor="black", showline=True, linewidth=2, linecolor="black", mirror=True,
                             automargin=False, ticklabelstandoff=-2,
                             showgrid=False, zeroline=False, tickfont=axis_font,
                             minor=dict(tickvals=list(range(65, 200, 10)), ticks="outside", ticklen=4,
                                        tickwidth=1, tickcolor="black"))
shapes.append(dict(type="rect", xref="x10", yref="y10 domain", x0=0, x1=7, y0=0, y1=1,
                   fillcolor="#f3f3f3", line=dict(width=0), layer="below"))
for k in range(7):
    if g_peak_lo[k] is not None:
        fig.add_trace(go.Bar(x=[k + 0.5], y=[g_peak_hi[k] - g_peak_lo[k]], base=[g_peak_lo[k]], width=1.0,
                             xaxis="x10", yaxis="y10", showlegend=False, hoverinfo="skip",
                             marker=dict(color="#a9eef6", line=dict(color="#8a8a8a", width=1.2))))
bx, by = [], []
for k in range(7):
    bx += [k + 0.05, k + 0.95, None]
    by += [g_burial[k], g_burial[k], None]
fig.add_trace(go.Scatter(x=bx, y=by, mode="lines", xaxis="x10", yaxis="y10", showlegend=False,
                         hoverinfo="skip", line=dict(color="black", width=5)))


def g_sym(vals, errs, slots, color):
    for k in range(7):
        if vals[k] is None:
            continue
        xpos = k + slots[k]
        fig.add_trace(go.Bar(x=[xpos], y=[2.4], base=[vals[k] - 1.2], width=0.38, xaxis="x10", yaxis="y10",
                             showlegend=False, hoverinfo="skip",
                             marker=dict(color=color, line=dict(color="#555555", width=1))))
        fig.add_trace(go.Scatter(x=[xpos], y=[vals[k]], mode="markers", xaxis="x10", yaxis="y10",
                                 showlegend=False, hoverinfo="skip", marker=dict(size=1, color="rgba(0,0,0,0)"),
                                 error_y=dict(type="data", array=[errs[k]], color="black", thickness=1.2, width=3)))


g_sym(g_micrite, g_micrite_err, g_micrite_slot, MICRITE_C)
g_sym(g_cement, g_cement_err, g_cement_slot, CEMENT_C)
g_sym(g_vein, g_vein_err, g_vein_slot, VEIN_C)
for k in range(1, 7):
    shapes.append(dict(type="line", xref="x10", yref="y10 domain", x0=k, x1=k, y0=0, y1=1,
                       line=dict(color="black", width=2)))
shapes.append(dict(type="rect", xref="x10", yref="y10", x0=3, x1=7, y0=65, y1=134,
                   fillcolor="white", line=dict(color="black", width=1.5)))
annos.append(dict(x=0.041, y=0.91, xref="x10 domain", yref="y10 domain", text="<b>g</b>", showarrow=False,
                  font=dict(family=FONT, size=30, color=TXT), xanchor="center", yanchor="middle"))
ytitle(28, 1139)


def leg_rect(x0, x1, yc, color, h=5):
    shapes.append(dict(type="rect", xref="paper", yref="paper", x0=fx(x0), x1=fx(x1), y0=fy(yc + h / 2),
                       y1=fy(yc - h / 2), fillcolor=color, line=dict(color="#555555", width=1)))


def leg_line(x0, x1, yc, color, width, dash="solid"):
    shapes.append(dict(type="line", xref="paper", yref="paper", x0=fx(x0), x1=fx(x1), y0=fy(yc), y1=fy(yc),
                       line=dict(color=color, width=width, dash=dash)))


def leg_text(x, yc, txt, size=21):
    annos.append(dict(x=fx(x), y=fy(yc), xref="paper", yref="paper", text="<b>%s</b>" % txt, showarrow=False,
                      font=dict(family=FONT, size=size, color=TXT), xanchor="left", yanchor="middle"))


leg_rect(280.5, 307.5, 1165.7, MICRITE_C)
leg_text(314, 1165.7, "Micrite TΔ<sub>47</sub>")
leg_rect(280.5, 307.5, 1189.4, CEMENT_C)
leg_text(314, 1189.4, "Cement  TΔ<sub>47</sub>")
leg_rect(280.5, 307.5, 1213, VEIN_C)
leg_text(314, 1213, "Vein TΔ<sub>47</sub>")
leg_line(280.5, 307.5, 1237.4, "black", 5)
leg_text(314, 1237.4, "Burial temperature")
leg_rect(280.5, 307.5, 1273, "#a9eef6", 6)
leg_text(314, 1264, "Estimated peak")
leg_text(314, 1283, "temperature range")

# h legend
shapes.append(dict(type="rect", xref="paper", yref="paper", x0=fx(805), x1=fx(1021), y0=fy(1286), y1=fy(1178),
                   fillcolor="white", line=dict(color="#444444", width=1.5)))
leg_text(808, 1195, "Legend", 22)
leg_line(810, 888, 1208.5, "#444444", 1.5)
leg_line(812, 837, 1227.5, "black", 2)
leg_text(842, 1227.5, "Thermal history", 22)
leg_line(812, 837, 1249.5, "black", 1.8, "4px,2.5px")
leg_text(842, 1249.5, "Model result", 22)
leg_rect(812, 837, 1271.5, MICRITE_C)
leg_text(842, 1271.5, "Micrite TΔ<sub>47</sub>", 22)

# l legend
shapes.append(dict(type="rect", xref="paper", yref="paper", x0=fx(1301), x1=fx(1572), y0=fy(1290), y1=fy(1137),
                   fillcolor="white", line=dict(color="#444444", width=1.5)))
leg_text(1303, 1153, "Legend", 22)
leg_line(1305, 1385, 1166.5, "#444444", 1.5)
leg_line(1309, 1334, 1186, "black", 2)
leg_text(1339, 1186, "Thermal  history", 21)
leg_line(1309, 1334, 1209, "black", 1.6, "8px,3px")
leg_text(1339, 1209, "Cement model result", 21)
leg_line(1309, 1334, 1231, "black", 1.6, "7px,3px,2px,3px")
leg_text(1339, 1231, "Vein model result", 21)
leg_rect(1309, 1334, 1253.5, CEMENT_C)
leg_text(1339, 1253.5, "Cement TΔ<sub>47</sub>", 21)
leg_rect(1309, 1334, 1276.5, VEIN_C)
leg_text(1339, 1276.5, "Vein TΔ<sub>47</sub>", 21)

# axis titles for line panels
ytitle(26, 148); ytitle(555, 150); ytitle(1079, 148)
ytitle(26, 482); ytitle(555, 479); ytitle(1079, 476)
ytitle(26, 813); ytitle(555, 810); ytitle(1079, 818)
ytitle(555, 1157); ytitle(1079, 1154)

# separator between columns
shapes.append(dict(type="line", xref="paper", yref="paper", x0=fx(1061), x1=fx(1061), y0=fy(0), y1=fy(1309),
                   line=dict(color="#333333", width=3)))

fig.update_layout(width=W, height=H, autosize=False,
                  margin=dict(l=0, r=0, t=0, b=0, pad=0, autoexpand=False), paper_bgcolor="white",
                  plot_bgcolor="white", barmode="overlay", showlegend=False, shapes=shapes, annotations=annos,
                  font=dict(family=FONT, color=TXT))
fig.write_html("out.html", config={"displayModeBar": False},
               post_script="document.body.style.margin='0px';document.body.style.padding='0px';"
                           "document.documentElement.style.overflow='hidden';")
